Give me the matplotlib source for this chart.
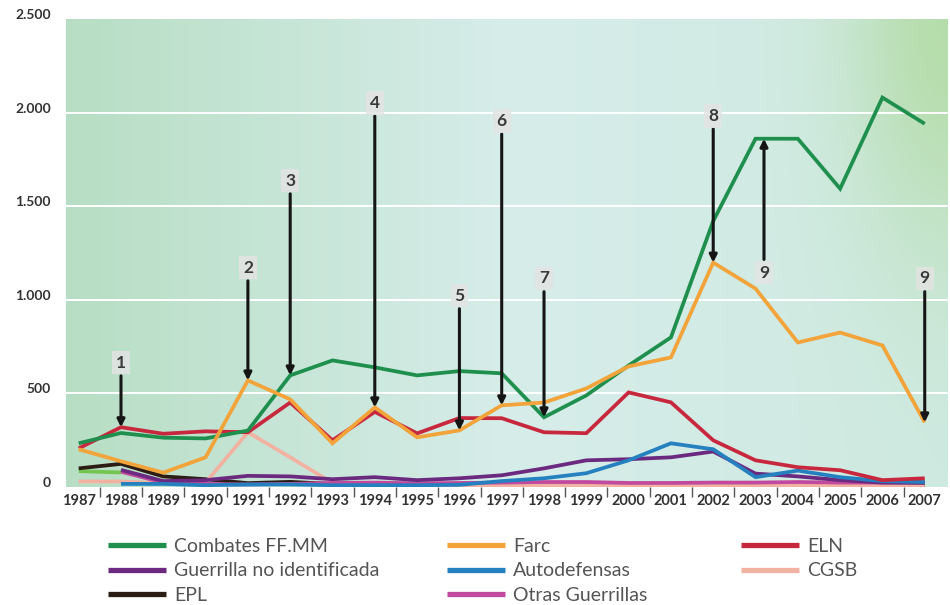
import numpy as np
import matplotlib
matplotlib.use("Agg")
import matplotlib.pyplot as plt
from matplotlib.lines import Line2D

plt.rcParams["font.family"] = ["Lato", "DejaVu Sans"]

nan = np.nan
years = list(range(1987, 2008))

combates = [232, 287, 262, 258, 300, 595, 675, 638, 595, 618, 606, 371, 488,
            648, 798, 1420, 1860, 1860, 1593, 2080, 1940]
farc = [200, 136, 75, 157, 568, 467, 232, 424, 264, 301, 435, 450, 525,
        643, 691, 1198, 1059, 771, 824, 755, 344]
eln = [205, 318, 283, 296, 291, 450, 248, 400, 285, 367, 366, 291, 286,
       504, 451, 248, 141, 104, 88, 35, 45]
guerrilla_ni = [nan, 90, 30, 35, 58, 55, 40, 51, 35, 45, 61, 98, 141,
                147, 157, 188, 70, 55, 35, 22, 20]
autodefensas = [nan, 15, 15, 8, 12, 12, 8, 8, 8, 10, 30, 45, 72,
                141, 232, 200, 51, 86, 51, 30, 25]
cgsb = [28, 28, 18, 22, 291, 157, 20, 10, 8, 8, 6, 6, 6,
        6, 6, 6, 6, 6, 6, 6, 6]
epl = [98, 122, 55, 40, 19, 26, 14, 10, 8, 8, 8, 6, 6,
       6, 5, 5, 5, 5, 10, 10, 5]
otras = [nan, 80, 22, 15, 12, 15, 20, 22, 18, 20, 22, 25, 25,
         20, 20, 22, 22, 25, 22, 22, 25]
verde_claro = [83, 76, nan, nan, nan, nan, nan, nan, nan, nan, nan, nan, nan,
               nan, nan, nan, nan, nan, nan, nan, nan]

y_ticks = [0, 500, 1000, 1500, 2000, 2500]
y_labels = ["0", "500", "1.000", "1.500", "2.000", "2.500"]

# (number, year, label height, series the arrow points at)
events = [
    ("1", 1988, 663, eln),
    ("2", 1991, 1171, farc),
    ("3", 1992, 1636, combates),
    ("4", 1994, 2052, farc),
    ("5", 1996, 1022, farc),
    ("6", 1997, 1956, farc),
    ("7", 1998, 1113, combates),
    ("8", 2002, 1983, farc),
    ("9", 2003, 1144, combates),
    ("9", 2007, 1113, farc),
]

W, H = 950, 605
fig = plt.figure(figsize=(W / 100, H / 100), dpi=100)
ax = fig.add_axes([66 / W, (H - 486.7) / H, (948 - 66) / W, (486.7 - 19) / H])

x0, x1 = 1986.7, 2007.55
ax.set_xlim(x0, x1)
ax.set_ylim(0, 2500)

# soft background gradient
gw, gh = 500, 260
u = np.linspace(0, 1, gw)[None, :]
v = np.linspace(1, 0, gh)[:, None]
left = np.array([0.72, 0.87, 0.77])
mid = np.array([0.84, 0.928, 0.915])
right = np.array([0.81, 0.915, 0.88])
t = np.clip(u / 0.5, 0, 1)[..., None]
t2 = np.clip((u - 0.5) / 0.5, 0, 1)[..., None]
base = np.where((u < 0.5)[..., None], left + (mid - left) * t, mid + (right - mid) * t2)
base = np.broadcast_to(base, (gh, gw, 3)).copy()
corner = np.array([0.68, 0.85, 0.60])
w = 0.75 * np.exp(-(((1 - u) / 0.11) ** 2 + ((1 - v) / 0.5) ** 2))
base = base * (1 - w[..., None]) + corner * w[..., None]
ax.imshow(base, extent=[x0, x1, 0, 2500], aspect="auto", zorder=0,
          interpolation="bilinear")

for yv in y_ticks[1:-1]:
    ax.axhline(yv, color="white", lw=1.4, zorder=1)

lw = 2.7
series = [
    (verde_claro, "#74c452", None),
    (epl, "#2b1d14", "EPL"),
    (cgsb, "#f2b2a2", "CGSB"),
    (otras, "#c24a9e", "Otras Guerrillas"),
    (guerrilla_ni, "#6b2a80", "Guerrilla no identificada"),
    (autodefensas, "#2580bf", "Autodefensas"),
    (eln, "#c8283e", "ELN"),
    (combates, "#1f8f4e", "Combates FF.MM"),
    (farc, "#f2a33a", "Farc"),
]
handles = {}
for vals, col, name in series:
    ax.plot(years, vals, color=col, lw=lw, zorder=3,
            solid_joinstyle="miter", solid_capstyle="butt")
    if name:
        handles[name] = col

for num, yr, ylab, target in events:
    tip = target[years.index(yr)]
    xa = yr + 0.2 if (num == "9" and yr == 2003) else yr
    ax.annotate(num, xy=(xa, tip), xytext=(xa, ylab), ha="center", va="center",
                fontsize=12.5, fontweight="bold", color="#3a3a3a", zorder=5,
                bbox=dict(boxstyle="square,pad=0.22", fc="#e3e3e3", ec="none",
                          alpha=0.85),
                arrowprops=dict(arrowstyle="-|>", color="#151515", lw=2.2,
                                mutation_scale=11, shrinkA=1, shrinkB=0))

for s in ax.spines.values():
    s.set_visible(False)

ax.set_yticks(y_ticks)
ax.set_yticklabels(y_labels)
ax.tick_params(axis="y", length=0, pad=11, labelsize=10, labelcolor="#333333")
for lab in ax.get_yticklabels():
    lab.set_fontweight("bold")
    lab.set_verticalalignment("baseline")

ax.set_xticks(years)
ax.set_xticklabels([str(y) for y in years])
ax.set_xticks([y + 0.5 for y in years[:-1]], minor=True)
ax.tick_params(axis="x", which="major", length=0, pad=5, labelsize=10.5,
               labelcolor="#333333")
ax.tick_params(axis="x", which="minor", length=7, width=1, color="#555555",
               direction="out")
for lab in ax.get_xticklabels():
    lab.set_fontweight("bold")

# legend in three columns placed under the plot
cols = [
    (108, ["Combates FF.MM", "Guerrilla no identificada", "EPL"]),
    (447, ["Farc", "Autodefensas", "Otras Guerrillas"]),
    (741, ["ELN", "CGSB"]),
]
for xpx, names in cols:
    hs = [Line2D([], [], color=handles[n], lw=3.8, solid_capstyle="butt") for n in names]
    leg = fig.legend(hs, names, loc="upper left",
                     bbox_to_anchor=(xpx / W, 1 - 538 / H), frameon=False,
                     fontsize=14, handlelength=3.0, handletextpad=0.4,
                     labelspacing=0.38, borderpad=0, borderaxespad=0)
    for txt in leg.get_texts():
        txt.set_color("#555555")

fig.savefig("out.png", dpi=100, facecolor="white")
